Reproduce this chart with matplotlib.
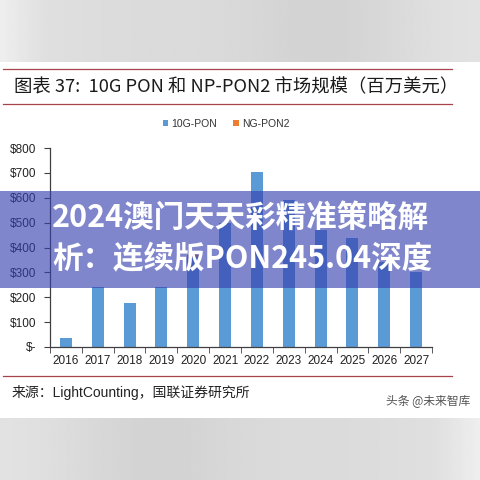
import numpy as np
import matplotlib
matplotlib.use("Agg")
import matplotlib.pyplot as plt
from matplotlib.patches import Rectangle

# ---- data ----
years = ["2016", "2017", "2018", "2019", "2020", "2021",
         "2022", "2023", "2024", "2025", "2026", "2027"]
pon_10g = [38, 242, 178, 242, 362, 500, 705, 592, 470, 440, 340, 300]
ng_pon2 = [0, 0, 0, 0, 8, 0, 0, 0, 0, 0, 0, 0]
ytick_vals = [0, 100, 200, 300, 400, 500, 600, 700, 800]
ytick_labels = ["$-", "$100", "$200", "$300", "$400", "$500", "$600", "$700", "$800"]

title_text = "图表 37:  10G PON 和 NP-PON2 市场规模（百万美元）"
source_text = "来源：LightCounting，国联证券研究所"
watermark_text = "头条 @未来智库"
banner_lines = ["2024澳门天天彩精准策略解", "析：连续版PON245.04深度"]

BLUE = "#5b9bd5"
ORANGE = "#ed7d31"
RULE = "#a8434c"

W = H = 480
fig = plt.figure(figsize=(4.8, 4.8), dpi=100)

# page background in pixel coordinates (y downwards)
bg = fig.add_axes([0, 0, 1, 1])
bg.set_xlim(0, W)
bg.set_ylim(H, 0)
bg.axis("off")

# soft grey surroundings above and below the white sheet
grad = np.linspace(0, 1, 200)
shade = 0.89 - 0.06 * np.exp(-((grad - 0.68) ** 2) / 0.04) - 0.03 * np.exp(-((grad - 0.3) ** 2) / 0.06)
shade[:20] += np.linspace(0.05, 0, 20)
img = np.tile(shade, (10, 1))
bg.imshow(img, extent=[0, W, 62, 0], cmap="gray", vmin=0, vmax=1,
          aspect="auto", interpolation="bilinear", zorder=0)
bg.imshow(img[:, ::-1], extent=[0, W, H, 418], cmap="gray", vmin=0, vmax=1,
          aspect="auto", interpolation="bilinear", zorder=0)
bg.add_patch(Rectangle((0, 62), W, 356, facecolor="white", edgecolor="none", zorder=1))

for yy in (69, 104, 376):
    bg.plot([3, 452], [yy, yy], color=RULE, lw=0.9, zorder=2)

cjk = ["Noto Sans CJK SC", "DejaVu Sans"]
latin_cjk = ["Liberation Sans", "Noto Sans CJK SC"]

bg.text(14, 87, title_text, fontsize=13.2, fontfamily=cjk, style="italic",
        color="#1a1a1a", va="center", ha="left", zorder=3)
bg.text(12, 392, source_text, fontsize=10, fontfamily=latin_cjk,
        color="#222222", va="center", ha="left", zorder=3)
bg.text(470, 402, watermark_text, fontsize=8.5, fontfamily=cjk,
        color="#555555", va="center", ha="right", zorder=3)

# ---- chart ----
ax = fig.add_axes([50 / W, 1 - 347 / H, (432 - 50) / W, (347 - 148) / H])
x = np.arange(len(years))
ax.bar(x, pon_10g, width=0.38, color=BLUE, label="10G-PON", zorder=2)
ax.bar(x, ng_pon2, width=0.38, bottom=pon_10g, color=ORANGE, label="NG-PON2", zorder=2)
ax.set_xlim(-0.5, len(years) - 0.5)
ax.set_ylim(0, 800)
ax.set_yticks(ytick_vals)
ax.set_yticklabels(ytick_labels, fontfamily="Liberation Sans", fontsize=8.5, color="#222222")
ax.set_xticks(x)
ax.set_xticklabels(years, fontfamily="Liberation Sans", fontsize=8.5, color="#222222")
ax.tick_params(axis="x", length=0, pad=6)
ax.set_xticks(np.arange(-0.5, len(years)), minor=True)
ax.tick_params(axis="x", which="minor", length=4, color="#404040", direction="out")
ax.tick_params(axis="y", length=4, color="#404040", direction="out", pad=6)
for side in ("top", "right"):
    ax.spines[side].set_visible(False)
for side in ("left", "bottom"):
    ax.spines[side].set_color("#404040")
    ax.spines[side].set_linewidth(0.9)
ax.set_facecolor("none")

leg = fig.legend(loc="center", bbox_to_anchor=(226 / W, 1 - 124 / H), ncol=2,
                 frameon=False, prop={"family": "Liberation Sans", "size": 7.5},
                 handlelength=0.5, handleheight=0.5, handletextpad=0.3,
                 columnspacing=1.6)
for t in leg.get_texts():
    t.set_color("#333333")

# ---- translucent headline banner ----
top = fig.add_axes([0, 0, 1, 1])
top.set_xlim(0, W)
top.set_ylim(H, 0)
top.axis("off")
top.add_patch(Rectangle((0, 191), W, 97, facecolor="#363fae", alpha=0.63,
                        edgecolor="none", zorder=5))
top.text(52, 218, banner_lines[0], fontsize=22, fontweight="heavy", fontfamily=cjk,
         color="white", va="center", ha="left", zorder=6)
top.text(52, 259, banner_lines[1], fontsize=22, fontweight="heavy", fontfamily=cjk,
         color="white", va="center", ha="left", zorder=6)

fig.savefig("out.png", dpi=100)
